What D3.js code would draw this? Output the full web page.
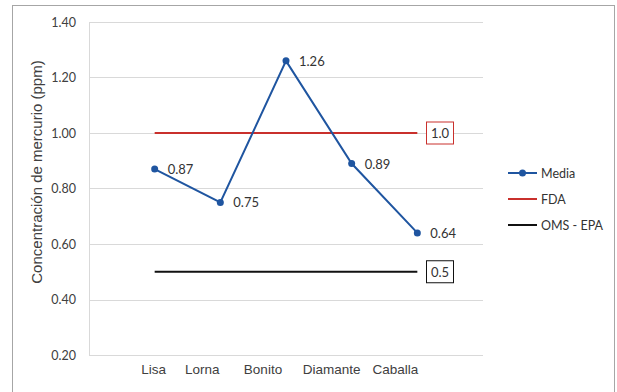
<!DOCTYPE html>
<html>
<head>
<meta charset="utf-8">
<script src="https://cdn.jsdelivr.net/npm/d3@7"></script>
<style>
  body { margin: 0; background: #fff; }
  svg text { font-family: "Liberation Sans", Arial, sans-serif; }
</style>
</head>
<body>
<div id="chart"></div>
<script>
// chart values
const especies = ["Lisa", "Lorna", "Bonito", "Diamante", "Caballa"];
const media = [0.87, 0.75, 1.26, 0.89, 0.64];
const fda = 1.0;
const omsEpa = 0.5;
const yTicks = [0.20, 0.40, 0.60, 0.80, 1.00, 1.20, 1.40];
const seriesNames = ["Media", "FDA", "OMS - EPA"];

const width = 617, height = 392;
const blue = "#1f55a0", red = "#c9302c", black = "#111111";

let svg = d3.select("#chart").append("svg")
  .attr("width", width).attr("height", height);

// outer chart border
svg.append("rect")
  .attr("x", 12.5).attr("y", 5.5)
  .attr("width", 602).attr("height", 400)
  .attr("fill", "none").attr("stroke", "#a6a6a6");

// x slots: empty slot on each side of the five species (line chart "on tick marks")
let slots = ["", ...especies, " "];
let x = d3.scalePoint().domain(slots).range([89, 483]);
let y = d3.scaleLinear().domain([0.2, 1.4]).range([355, 22]);

// gridlines
svg.append("g").selectAll("line").data(yTicks).join("line")
  .attr("x1", 89).attr("x2", 483)
  .attr("y1", d => Math.round(y(d)) + 0.5).attr("y2", d => Math.round(y(d)) + 0.5)
  .attr("stroke", "#d9d9d9");

svg.append("line")
  .attr("x1", 89.5).attr("x2", 89.5)
  .attr("y1", y(1.4)).attr("y2", y(0.2))
  .attr("stroke", "#d9d9d9");

// y axis labels
let yAxis = d3.axisLeft(y).tickValues(yTicks).tickFormat(d3.format(".2f")).tickSize(0).tickPadding(13);
let gy = svg.append("g").attr("transform", "translate(89,0)").call(yAxis);
gy.select(".domain").remove();
gy.selectAll("text").attr("font-size", 12.5).attr("fill", "#404040")
  .style("font-family", "Lato, 'Liberation Sans', sans-serif");

// x labels (they sit a bit left of the points in the original)
const tickShift = [-1, -18, -23, -20, -22];
svg.append("g").selectAll("text").data(especies).join("text")
  .attr("x", (d, i) => x(d) + tickShift[i])
  .attr("y", 374)
  .attr("text-anchor", "middle")
  .attr("font-size", 13.5).attr("fill", "#404040")
  .text(d => d);

// y axis title
svg.append("text")
  .attr("transform", "translate(42," + 172 + ") rotate(-90)")
  .attr("text-anchor", "middle")
  .attr("font-size", 15).attr("fill", "#404040")
  .text("Concentración de mercurio (ppm)");

// reference lines
function refLine(v, color, label) {
  svg.append("line")
    .attr("x1", x(especies[0])).attr("x2", x(especies[especies.length - 1]))
    .attr("y1", y(v)).attr("y2", y(v))
    .attr("stroke", color).attr("stroke-width", 2);
  svg.append("rect")
    .attr("x", 426.5).attr("y", y(v) - 11)
    .attr("width", 27).attr("height", 22)
    .attr("fill", "#fff").attr("stroke", color);
  svg.append("text")
    .attr("x", 440).attr("y", y(v) + 5)
    .attr("text-anchor", "middle")
    .attr("font-size", 13).attr("fill", "#333")
    .style("font-family", "Lato, 'Liberation Sans', sans-serif")
    .text(label);
}
refLine(fda, red, d3.format(".1f")(fda));
refLine(omsEpa, black, d3.format(".1f")(omsEpa));

// media series
let line = d3.line().x((d, i) => x(especies[i])).y(d => y(d));
svg.append("path").datum(media)
  .attr("d", line).attr("fill", "none")
  .attr("stroke", blue).attr("stroke-width", 2);

svg.append("g").selectAll("circle").data(media).join("circle")
  .attr("cx", (d, i) => x(especies[i])).attr("cy", d => y(d))
  .attr("r", 3.5).attr("fill", blue);

svg.append("g").selectAll("text").data(media).join("text")
  .attr("x", (d, i) => x(especies[i]) + 13)
  .attr("y", d => y(d) + 5)
  .attr("font-size", 13).attr("fill", "#333")
  .style("font-family", "Lato, 'Liberation Sans', sans-serif")
  .text(d => d3.format(".2f")(d));

// legend
let legend = svg.append("g").attr("transform", "translate(508,173)");
let colors = [blue, red, black];
seriesNames.forEach((name, i) => {
  let g = legend.append("g").attr("transform", "translate(0," + i * 26 + ")");
  g.append("line").attr("x1", 0).attr("x2", 29)
    .attr("stroke", colors[i]).attr("stroke-width", 2);
  if (i === 0) g.append("circle").attr("cx", 14.5).attr("r", 3.5).attr("fill", blue);
  g.append("text").attr("x", 33).attr("y", 4.5)
    .attr("font-size", 12.5).attr("fill", "#333")
    .style("font-family", "Lato, 'Liberation Sans', sans-serif")
    .text(name);
});
</script>
</body>
</html>
